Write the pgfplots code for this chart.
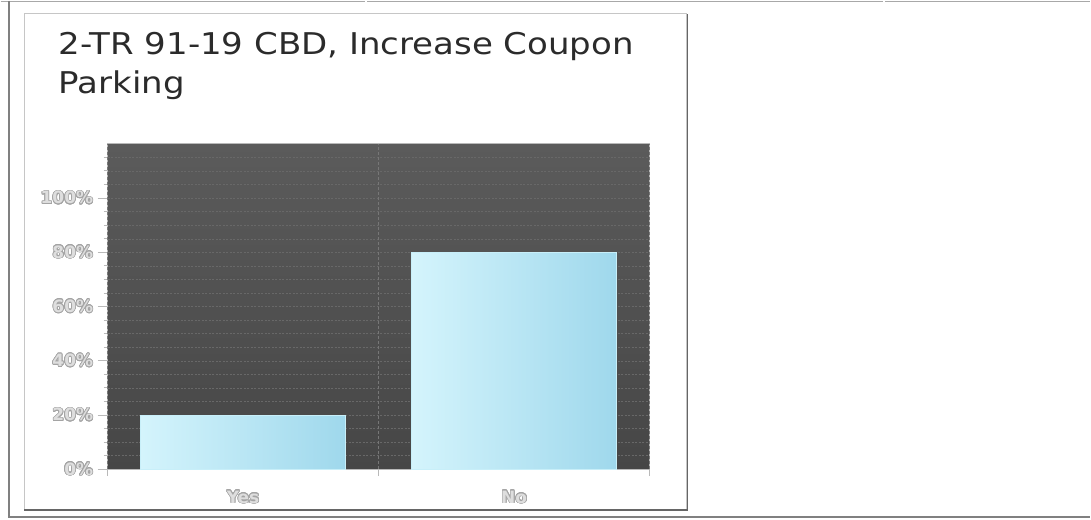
\documentclass[border=0pt]{standalone}
\usepackage{pgfplots}
\pgfplotsset{compat=1.18}
\usepackage{fontspec}
\setmainfont{DejaVu Sans}
\usepackage{contour}
\contourlength{0.7pt}
\contournumber{20}

\definecolor{titlegray}{HTML}{2B2B2B}
\definecolor{labelfill}{HTML}{DEDEDE}
\definecolor{labeledge}{HTML}{A4A4A4}
\definecolor{barleft}{HTML}{D4F4FC}
\definecolor{barmid}{HTML}{C0E6F2}
\definecolor{barright}{HTML}{9FD8EC}
\definecolor{baredge}{HTML}{C8EFF9}
\definecolor{plottop}{HTML}{5B5B5B}
\definecolor{plotbottom}{HTML}{464646}
\definecolor{gridgray}{HTML}{686868}
\definecolor{vgridgray}{HTML}{777777}
\definecolor{framegray}{HTML}{A8A8A8}

% light embossed lettering used for the axis labels
\newcommand{\emb}[1]{\contour{labeledge}{\textcolor{labelfill}{#1}}}

\pgfplotsset{
  cyanbar/.style={ybar, bar width=205pt, draw=baredge, line width=0.8pt,
    left color=barleft, middle color=barmid, right color=barright},
}

\begin{document}
\begin{tikzpicture}[x=1pt,y=1pt]
% page extent
\path (0,0) rectangle (1091,519);
% surrounding page rules
\draw[framegray, line width=1.5] (0,518.3) -- (365,518.3);
\draw[framegray, line width=1.5] (367,518.3) -- (884,518.3);
\draw[framegray, line width=1.5] (886,518.3) -- (1091,518.3);
\draw[gray, line width=2] (8,519) -- (8,2) -- (1091,2);
% chart panel with shadow
\draw[gray!45, line width=1] (23.5,10) rectangle (687,506);
\draw[black!60, line width=1.5] (688,506) -- (688,9) -- (23,9);

% title
\node[anchor=base west, inner sep=0, text=titlegray, font=\fontsize{30}{36}\selectfont]
  at (58,465) {\scalebox{1.135}[1]{2-TR 91-19 CBD, Increase Coupon}};
\node[anchor=base west, inner sep=0, text=titlegray, font=\fontsize{30}{36}\selectfont]
  at (58,426) {\scalebox{1.135}[1]{Parking}};

\begin{axis}[
  at={(107pt,50pt)}, anchor=south west,
  scale only axis, width=543pt, height=326pt,
  xmin=-0.5, xmax=1.5, ymin=0, ymax=120,
  /pgf/number format/assume math mode=true,
  axis background/.style={top color=plottop, bottom color=plotbottom},
  axis line style={draw=gray!55, line width=1pt},
  tick align=outside,
  ytick pos=left, xtick pos=bottom,
  ytick={0,20,...,100},
  minor ytick={5,10,...,115},
  major tick length=10pt, minor tick length=4pt,
  ytick style={draw=gray!55, line width=0.8pt},
  minor tick style={draw=gray!55, line width=0.8pt},
  ymajorgrids, yminorgrids,
  major grid style={gridgray, dash pattern=on 2pt off 1.5pt},
  minor grid style={gridgray, dash pattern=on 2pt off 1.5pt},
  yticklabel={\emb{\pgfmathprintnumber{\tick}\%}},
  yticklabel style={font=\fontsize{17}{20}\selectfont\bfseries, xshift=-1pt},
  xtick={0,1},
  xticklabels={\emb{Yes},\emb{No}},
  xtick style={draw=none},
  xticklabel style={font=\fontsize{17}{20}\selectfont\bfseries, yshift=-8pt},
  extra x ticks={-0.5,0.5,1.5},
  extra x tick labels={},
  extra x tick style={
    xtick style={draw=gray!55, line width=0.8pt},
    major tick length=7pt,
    xmajorgrids=true,
    major grid style={vgridgray, dash pattern=on 3pt off 2pt, line width=0.8pt}},
]
% one plot per bar so that each bar carries its own shading
\addplot[cyanbar] coordinates {(0,20)};
\addplot[cyanbar] coordinates {(1,80)};
\end{axis}
\end{tikzpicture}
\end{document}
